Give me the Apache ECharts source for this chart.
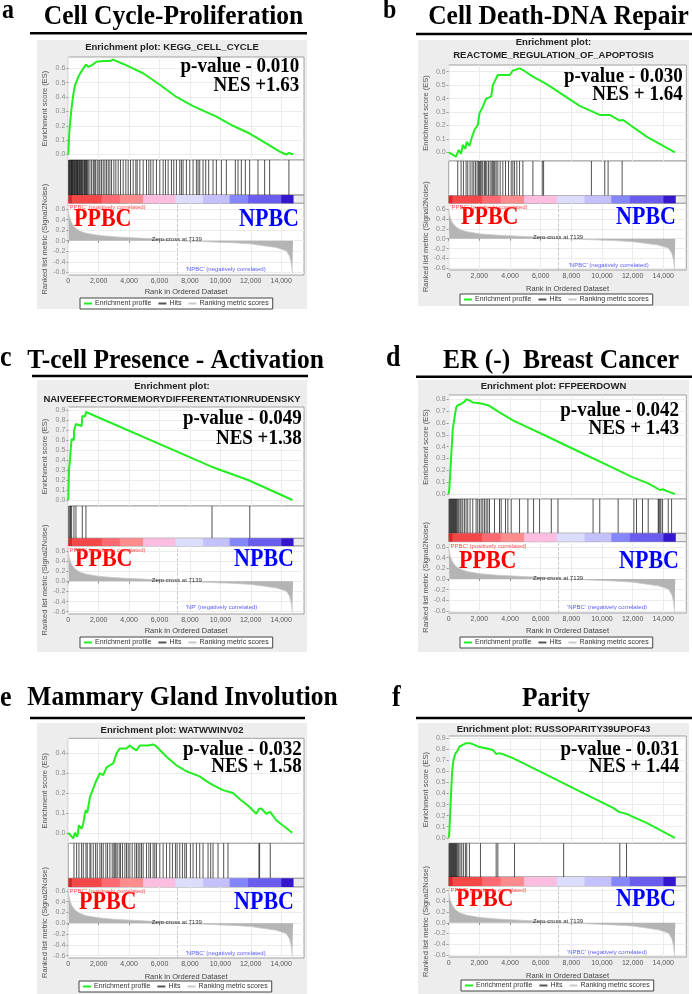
<!DOCTYPE html>
<html>
<head>
<meta charset="utf-8">
<script src="https://cdn.jsdelivr.net/npm/echarts@6.0.0/dist/echarts.min.js"></script>
<style>
html, body { margin: 0; padding: 0; background: #fff; }
#main { width: 692px; height: 994px; }
</style>
</head>
<body>
<div id="main"></div>
<script>
// ---- data ----
var zeroCross = 7139;
var xTicks = [0, 2000, 4000, 6000, 8000, 10000, 12000, 14000];
var rankTicks = [-0.6, -0.4, -0.2, 0, 0.2, 0.4, 0.6];

// ranked list metric (same dataset in every panel)
var metricRank = [0, 40, 110, 220, 440, 770, 1200, 2080, 3170, 4920, 6450, 7139, 8640, 10830, 12000, 12580, 13680, 14330, 14550, 14660, 14730, 14780];
var metricValue = [0.58, 0.5, 0.42, 0.335, 0.245, 0.18, 0.14, 0.097, 0.071, 0.045, 0.022, 0, -0.013, -0.039, -0.06, -0.084, -0.13, -0.19, -0.29, -0.42, -0.6, -0.62];

// colour bar bands (rank edges)
var bandEdges = [0, 250, 2190, 3390, 4920, 7050, 8860, 10610, 11820, 14000, 14780];
var bandColors = ['#d42a2a', '#f44848', '#ff6a72', '#ff8c8c', '#fbbde0', '#dcdcfc', '#c4c0fc', '#8486fc', '#6a5cec', '#3416cc'];

var esA = [[0,0],[66,0.15],[153,0.26],[220,0.33],[330,0.42],[440,0.48],[660,0.54],[875,0.58],[1160,0.625],[1310,0.61],[1530,0.62],[1860,0.645],[2300,0.65],[2735,0.65],[2950,0.66],[3390,0.64],[3830,0.62],[4920,0.565],[6020,0.485],[7110,0.40],[8210,0.337],[9740,0.263],[10830,0.20],[11930,0.146],[13020,0.077],[13900,0.02],[14330,0.0],[14508,0.012],[14780,0.0]];
var hitsA = [30,66,100,153,190,219,250,284,330,372,410,460,500,547,580,613,650,700,740,788,830,875,920,963,1028,1070,1116,1160,1203,1250,1313,1422,1532,1641,1707,1794,1904,2013,2079,2188,2297,2407,2516,2626,2735,2844,2998,3129,3282,3435,3610,3785,3938,4092,4267,4442,4529,4704,4923,5142,5295,5426,5579,5798,6017,6236,6389,6564,6783,6936,7111,7330,7439,7549,7767,7986,8205,8424,8533,8643,8861,9036,9233,9518,9737,10066,10394,10985,11160,11379,11641,11926,12473,12911,13239,14508];

var esB = [[0,0],[480,-0.032],[654,0.017],[807,-0.012],[916,0.055],[1090,0.025],[1177,0.079],[1352,0.047],[1526,0.117],[1679,0.166],[1897,0.203],[2006,0.29],[2224,0.34],[2442,0.40],[2769,0.414],[2878,0.50],[3205,0.575],[3532,0.575],[3968,0.575],[4186,0.608],[4622,0.625],[4840,0.613],[5494,0.563],[6366,0.509],[8546,0.345],[9854,0.278],[10508,0.278],[11162,0.236],[11380,0.24],[12906,0.117],[14760,0]];
var hitsB = [589,807,959,1134,1243,1395,1526,1635,1744,1853,1940,2006,2071,2158,2224,2333,2398,2485,2594,2703,2812,2878,2943,3008,3096,3205,3357,3532,3706,3902,4077,4186,4295,4447,4622,4840,5494,6104,6191,9309,10181,10399,11314];

var esC = [[0,0],[44,0],[44,0.3],[110,0.3],[110,0.4],[153,0.39],[153,0.5],[219,0.5],[219,0.61],[372,0.6],[372,0.69],[503,0.685],[503,0.76],[876,0.74],[920,0.74],[920,0.84],[1095,0.835],[1160,0.835],[1160,0.88],[9417,0.333],[9450,0.345],[11826,0.2],[11935,0.22],[14740,0]];
var hitsC = [44,110,153,219,372,503,920,1160,9450,11935];

var esD = [[0,0],[44,0.05],[154,0.3],[264,0.55],[484,0.73],[593,0.75],[813,0.76],[1033,0.78],[1143,0.80],[1363,0.79],[1583,0.773],[2022,0.766],[2572,0.75],[3341,0.687],[4220,0.62],[6366,0.49],[8546,0.355],[10726,0.22],[11913,0.147],[13012,0.09],[13781,0.034],[14001,0.04],[14221,0.025],[14551,0.01],[14661,0.02],[14760,0]];
var hitsD = [44,87,131,174,218,262,305,349,392,436,480,523,589,654,741,807,916,1025,1134,1243,1395,1570,1788,1897,2006,2115,2224,2333,2442,2551,2660,2987,3314,3423,3706,3859,4077,4622,5167,5537,5930,6693,7129,9418,9854,11053,12077,12252,12644,13015,13669,13712,13778,13843,13952,14323,14541];

var esE = [[0,0],[328,-0.028],[438,0],[591,-0.02],[700,0.038],[875,0.02],[985,0.047],[1094,0.097],[1160,0.115],[1247,0.1],[1422,0.18],[1641,0.224],[1860,0.266],[2079,0.30],[2297,0.29],[2516,0.33],[2954,0.35],[3173,0.40],[3391,0.425],[3829,0.425],[4048,0.44],[4267,0.425],[4485,0.415],[4704,0.44],[5251,0.44],[5579,0.445],[5798,0.435],[6455,0.383],[7111,0.34],[7767,0.31],[8643,0.284],[9080,0.26],[9518,0.24],[10174,0.215],[10831,0.2],[11268,0.17],[11925,0.13],[12362,0.096],[12537,0.12],[12690,0.122],[13019,0.096],[13281,0.105],[13675,0.063],[14725,0]];
var hitsE = [372,547,700,875,985,1160,1247,1422,1488,1641,1794,1904,2079,2188,2297,2472,2582,2735,2888,2998,3063,3129,3216,3348,3435,3566,3720,3829,3938,4048,4201,4376,4485,4595,4704,4814,4923,5142,5295,5404,5579,5689,5798,6017,6236,6455,6673,6848,7045,7155,7330,7505,7658,7767,8030,8205,8424,8643,8861,9190,9365,9518,9846,10218,10502,12537,12581,13281];

var esF = [[0,0],[44,0.05],[153,0.4],[218,0.59],[305,0.7],[436,0.76],[589,0.79],[698,0.824],[916,0.84],[1134,0.855],[1395,0.855],[1679,0.84],[2006,0.82],[2442,0.81],[2878,0.794],[2987,0.78],[3096,0.758],[3314,0.765],[3641,0.75],[4186,0.72],[6366,0.57],[8546,0.42],[10726,0.27],[11162,0.23],[11380,0.225],[11707,0.21],[12906,0.135],[14759,0]];
var hitsF = [44,87,131,174,218,262,305,349,392,436,480,523,589,654,741,850,959,1090,1177,1352,2071,3096,3205,4295,7499,11162,11598];

var esTicks6 = [0, 0.1, 0.2, 0.3, 0.4, 0.5, 0.6];
var esTicks8 = [0, 0.1, 0.2, 0.3, 0.4, 0.5, 0.6, 0.7, 0.8];
var esTicks9 = [0, 0.1, 0.2, 0.3, 0.4, 0.5, 0.6, 0.7, 0.8, 0.9];
var esTicks4 = [0, 0.1, 0.2, 0.3, 0.4];

var panels = [
	{letter: 'a', title: 'Cell Cycle-Proliferation', plot: ['Enrichment plot: KEGG_CELL_CYCLE'], pval: 'p-value - 0.010', nes: 'NES +1.63', neg: "'NPBC' (negatively correlated)", es: esA, hits: hitsA, ticks: esTicks6},
	{letter: 'b', title: 'Cell Death-DNA Repair', plot: ['Enrichment plot:', 'REACTOME_REGULATION_OF_APOPTOSIS'], pval: 'p-value - 0.030', nes: 'NES + 1.64', neg: "'NPBC' (negatively correlated)", es: esB, hits: hitsB, ticks: esTicks6},
	{letter: 'c', title: 'T-cell Presence - Activation', plot: ['Enrichment plot:', 'NAIVEEFFECTORMEMORYDIFFERENTATIONRUDENSKY'], pval: 'p-value - 0.049', nes: 'NES +1.38', neg: "'NP' (negatively correlated)", es: esC, hits: hitsC, ticks: esTicks9},
	{letter: 'd', title: 'ER (-)  Breast Cancer', plot: ['Enrichment plot: FFPEERDOWN'], pval: 'p-value - 0.042', nes: 'NES + 1.43', neg: "'NPBC' (negatively correlated)", es: esD, hits: hitsD, ticks: esTicks8},
	{letter: 'e', title: 'Mammary Gland Involution', plot: ['Enrichment plot: WATWWINV02'], pval: 'p-value - 0.032', nes: 'NES + 1.58', neg: "'NPBC' (negatively correlated)", es: esE, hits: hitsE, ticks: esTicks4},
	{letter: 'f', title: 'Parity', plot: ['Enrichment plot: RUSSOPARITY39UPOF43'], pval: 'p-value - 0.031', nes: 'NES + 1.44', neg: "'NPBC' (negatively correlated)", es: esF, hits: hitsF, ticks: esTicks9}
];

// ---- layout (pixels) ----
var XMAX = 15500;
var layout = [
	{x0: 68.3, x1: 304, esTop: 57, esBot: 160, hitBot: 195, cbBot: 203.3, rkBot: 275, esMin: -0.038, esMax: 0.678, rkMin: -0.65, rkMax: 0.709,
	 bg: [37, 40, 307, 309], letter: [2, 11, 24], title: [173.5, 17], line: [30, 307, 33.3], plotY: [47], pv: [299.3, 67, 86], pp: [74, 220], np: [299, 220], ppl: [68.3, 207.3], npl: [185.7, 269.3], leg: [80, 298], nameGap: 13},
	{x0: 448.7, x1: 686.3, esTop: 65, esBot: 161, hitBot: 195.7, cbBot: 203.3, rkBot: 270, esMin: -0.065, esMax: 0.65, rkMin: -0.634, rkMax: 0.717,
	 bg: [418, 40, 689, 306], letter: [383, 11, 24], title: [558.5, 17], line: [416, 692, 34], plotY: [42.3, 55.3], pv: [682.7, 76.7, 95], pp: [461, 218], np: [676, 218], ppl: [450.3, 207.3], npl: [568.7, 265.7], leg: [460, 294], nameGap: 15},
	{x0: 68.3, x1: 304, esTop: 407, esBot: 506, hitBot: 538.3, cbBot: 546, rkBot: 614, esMin: -0.06, esMax: 0.93, rkMin: -0.646, rkMax: 0.70,
	 bg: [37, 380, 307, 652], letter: [0, 358.6, 26], title: [175.5, 361], line: [32, 308, 376], plotY: [386.7, 399], pv: [301.7, 419, 438.3], pp: [75, 560], np: [294, 560], ppl: [68.3, 550], npl: [185.7, 607.7], leg: [80, 637], nameGap: 13},
	{x0: 448.7, x1: 686.3, esTop: 395, esBot: 499, hitBot: 533.3, cbBot: 541.7, rkBot: 613, esMin: -0.042, esMax: 0.836, rkMin: -0.64, rkMax: 0.70,
	 bg: [418, 380, 689, 652], letter: [386, 358.6, 26], title: [561, 361], line: [416, 692, 376.7], plotY: [386], pv: [679, 410.7, 428.3], pp: [459, 561.7], np: [679, 561.7], ppl: [449.3, 546], npl: [567, 607.7], leg: [460, 637], nameGap: 14},
	{x0: 68.3, x1: 304, esTop: 738.3, esBot: 843.3, hitBot: 878.3, cbBot: 887, rkBot: 958, esMin: -0.053, esMax: 0.476, rkMin: -0.644, rkMax: 0.673,
	 bg: [37, 723, 307, 994], letter: [0, 698.6, 26], title: [182.5, 698], line: [30, 305, 718], plotY: [730], pv: [301.7, 750, 766.7], pp: [79, 903], np: [294, 903], ppl: [68.3, 891], npl: [185.7, 953.3], leg: [79, 981], nameGap: 15},
	{x0: 448.7, x1: 686.3, esTop: 736, esBot: 843.3, hitBot: 877, cbBot: 886, rkBot: 957, esMin: -0.05, esMax: 0.92, rkMin: -0.638, rkMax: 0.687,
	 bg: [418, 723, 689, 994], letter: [392, 698.6, 26], title: [556, 698.5], line: [416, 692, 718], plotY: [729], pv: [679.3, 750, 766.7], pp: [456, 900], np: [676, 900], ppl: [449.3, 890], npl: [567, 952.3], leg: [461, 980], nameGap: 15}
];

var SANS = '"Liberation Sans", Arial, sans-serif';
var SERIF = '"Liberation Serif", "Times New Roman", serif';
var BORDER = '#a0a0a0';
var SPLIT = '#ececec';

function fmtRank(v) {
	return v.toLocaleString('en-US');
}

function txt(text, x, y, size, opts) {
	opts = opts || {};
	return {
		type: 'text', z: 100, x: x, y: y,
		scaleY: opts.scaleY || 1,
		silent: true,
		style: {
			text: text, x: 0, y: 0,
			fill: opts.color || '#000',
			fontSize: size,
			fontWeight: opts.weight || 'normal',
			fontFamily: opts.family || SANS,
			textAlign: opts.align || 'left', align: opts.align || 'left',
			textVerticalAlign: 'middle', verticalAlign: 'middle'
		}
	};
}

var grids = [], xAxes = [], yAxes = [], series = [], legends = [], graphics = [];
var metricData = metricRank.map(function (r, i) { return [r, metricValue[i]]; });
var bandData = bandColors.map(function (c, i) { return [bandEdges[i], bandEdges[i + 1], i]; });

panels.forEach(function (p, i) {
	var L = layout[i];
	var w = L.x1 - L.x0;
	var g0 = grids.length;
	var tops = [L.esTop, L.esBot, L.hitBot, L.cbBot];
	var bots = [L.esBot, L.hitBot, L.cbBot, L.rkBot];
	for (var k = 0; k < 4; k++) {
		grids.push({left: L.x0, width: w, top: tops[k], height: bots[k] - tops[k], show: true,
			backgroundColor: k == 2 ? 'transparent' : '#fff', borderColor: BORDER, borderWidth: 1});
		xAxes.push({
			gridIndex: g0 + k, type: 'value', min: 0, max: XMAX,
			show: k == 0 || k == 3,
			axisLine: {show: false},
			axisTick: {show: k == 3, length: 2, customValues: xTicks, lineStyle: {color: '#888'}},
			axisLabel: {show: k == 3, customValues: xTicks, formatter: fmtRank, fontSize: 7, color: '#555', fontFamily: SANS, margin: 3},
			splitLine: {show: true, lineStyle: {color: SPLIT, width: 1}},
			name: k == 3 ? 'Rank in Ordered Dataset' : '',
			nameLocation: 'middle', nameGap: L.nameGap,
			nameTextStyle: {fontSize: 7.5, color: '#444', fontFamily: SANS}
		});
	}
	// y axes
	yAxes.push({
		gridIndex: g0, type: 'value', min: L.esMin, max: L.esMax,
		axisLine: {show: false},
		axisTick: {show: true, length: 2, customValues: p.ticks, lineStyle: {color: '#999'}},
		axisLabel: {customValues: p.ticks, formatter: function (v) { return v.toFixed(1); }, fontSize: 7, color: '#8a8a8a', fontFamily: SANS, margin: 3},
		splitLine: {show: true, lineStyle: {color: SPLIT, width: 1}},
		name: 'Enrichment score (ES)', nameLocation: 'middle', nameRotate: 90, nameGap: 19,
		nameTextStyle: {fontSize: 7.5, color: '#555', fontFamily: SANS}
	});
	yAxes.push({gridIndex: g0 + 1, type: 'value', min: 0, max: 1, show: false, splitLine: {show: false}});
	yAxes.push({gridIndex: g0 + 2, type: 'value', min: 0, max: 1, show: false, splitLine: {show: false}});
	yAxes.push({
		gridIndex: g0 + 3, type: 'value', min: L.rkMin, max: L.rkMax,
		axisLine: {show: false},
		axisTick: {show: true, length: 2, customValues: rankTicks, lineStyle: {color: '#999'}},
		axisLabel: {customValues: rankTicks, formatter: function (v) { return v.toFixed(1); }, fontSize: 7, color: '#8a8a8a', fontFamily: SANS, margin: 3},
		splitLine: {show: true, lineStyle: {color: SPLIT, width: 1}},
		name: 'Ranked list metric (Signal2Noise)', nameLocation: 'middle', nameRotate: 90, nameGap: 19,
		nameTextStyle: {fontSize: 7.5, color: '#555', fontFamily: SANS}
	});

	// series
	series.push({
		name: 'Enrichment profile', type: 'line', xAxisIndex: g0, yAxisIndex: g0,
		data: p.es, symbol: 'none', showSymbol: false, z: 5,
		lineStyle: {color: '#22ee22', width: 2}, itemStyle: {color: '#22ee22'}
	});
	series.push({
		name: 'Hits', type: 'custom', xAxisIndex: g0 + 1, yAxisIndex: g0 + 1,
		data: p.hits.map(function (h) { return [h, 0]; }),
		encode: {x: 0, y: 1},
		itemStyle: {color: '#555'},
		renderItem: function (params, api) {
			var a = api.coord([api.value(0), 1]);
			var b = api.coord([api.value(0), 0]);
			return {type: 'line', shape: {x1: a[0], y1: a[1], x2: b[0], y2: b[1]},
				style: {stroke: 'rgba(0,0,0,0.68)', lineWidth: 1}};
		}
	});
	series.push({
		name: 'band', type: 'custom', xAxisIndex: g0 + 2, yAxisIndex: g0 + 2,
		data: bandData, encode: {x: [0, 1], y: 2},
		renderItem: function (params, api) {
			var a = api.coord([api.value(0), 1]);
			var b = api.coord([api.value(1), 0]);
			return {type: 'rect', shape: {x: a[0], y: a[1], width: b[0] - a[0] + 0.5, height: b[1] - a[1]},
				style: {fill: bandColors[api.value(2)]}};
		}
	});
	series.push({
		name: 'Ranking metric scores', type: 'line', xAxisIndex: g0 + 3, yAxisIndex: g0 + 3,
		data: metricData, symbol: 'none', showSymbol: false,
		lineStyle: {color: '#c8c8c8', width: 0.8},
		itemStyle: {color: '#c8c8c8'},
		areaStyle: {color: '#b4b4b4', opacity: 1},
		markLine: {
			silent: true, symbol: 'none', label: {show: false},
			lineStyle: {type: 'dashed', color: '#bdbdbd', width: 0.8},
			data: [{xAxis: zeroCross}]
		},
		markPoint: {
			silent: true, symbol: 'rect', symbolSize: 1, itemStyle: {color: 'rgba(0,0,0,0)'},
			label: {show: true, position: 'inside', offset: [0, -1], formatter: 'Zero cross at ' + zeroCross,
				fontSize: 6, color: '#333', fontFamily: SANS},
			data: [{coord: [zeroCross, 0]}]
		}
	});

	legends.push({
		left: L.leg[0], top: L.leg[1], orient: 'horizontal', selectedMode: false,
		data: [{name: 'Enrichment profile', icon: 'rect'}, {name: 'Hits', icon: 'rect'}, {name: 'Ranking metric scores', icon: 'rect'}],
		itemWidth: 8, itemHeight: 2, itemGap: 7,
		textStyle: {fontSize: 7, color: '#333', fontFamily: SANS, padding: [0, 0, 0, -2]},
		backgroundColor: '#fff', borderColor: '#444', borderWidth: 1, borderRadius: 0, padding: [2, 4]
	});

	// decorations and texts
	graphics.push({type: 'rect', z: -10, silent: true,
		shape: {x: L.bg[0], y: L.bg[1], width: L.bg[2] - L.bg[0], height: L.bg[3] - L.bg[1]},
		style: {fill: '#ededed'}});
	graphics.push({type: 'line', z: 100, silent: true,
		shape: {x1: L.line[0], y1: L.line[2], x2: L.line[1], y2: L.line[2]},
		style: {stroke: '#000', lineWidth: 2.6}});
	graphics.push(txt(p.letter, L.letter[0], L.letter[1], L.letter[2], {weight: 'bold', family: SERIF, scaleY: 1.1}));
	graphics.push(txt(p.title, L.title[0], L.title[1], 25.5, {weight: 'bold', family: SERIF, align: 'center', scaleY: 1.1}));
	var cx = (L.bg[0] + L.bg[2]) / 2;
	p.plot.forEach(function (s, j) {
		graphics.push(txt(s, cx, L.plotY[j], 9.5, {weight: 'bold', color: '#222', align: 'center'}));
	});
	graphics.push(txt(p.pval, L.pv[0], L.pv[1], 19, {weight: 'bold', family: SERIF, align: 'right', scaleY: 1.1}));
	graphics.push(txt(p.nes, L.pv[0], L.pv[2], 19, {weight: 'bold', family: SERIF, align: 'right', scaleY: 1.1}));
	graphics.push(txt('PPBC', L.pp[0], L.pp[1], 22, {weight: 'bold', family: SERIF, color: '#ff0000', scaleY: 1.1}));
	graphics.push(txt('NPBC', L.np[0], L.np[1], 22, {weight: 'bold', family: SERIF, color: '#0000ff', align: 'right', scaleY: 1.1}));
	graphics.push(txt("'PPBC' (positively correlated)", L.ppl[0], L.ppl[1], 6, {color: '#ff5050'}));
	graphics.push(txt(p.neg, L.npl[0], L.npl[1], 6, {color: '#5a5aff'}));
});

var chart = echarts.init(document.getElementById('main'), null, {renderer: 'canvas'});
chart.setOption({
	animation: false,
	backgroundColor: '#fff',
	grid: grids,
	xAxis: xAxes,
	yAxis: yAxes,
	legend: legends,
	series: series,
	graphic: {elements: graphics}
});
</script>
</body>
</html>
